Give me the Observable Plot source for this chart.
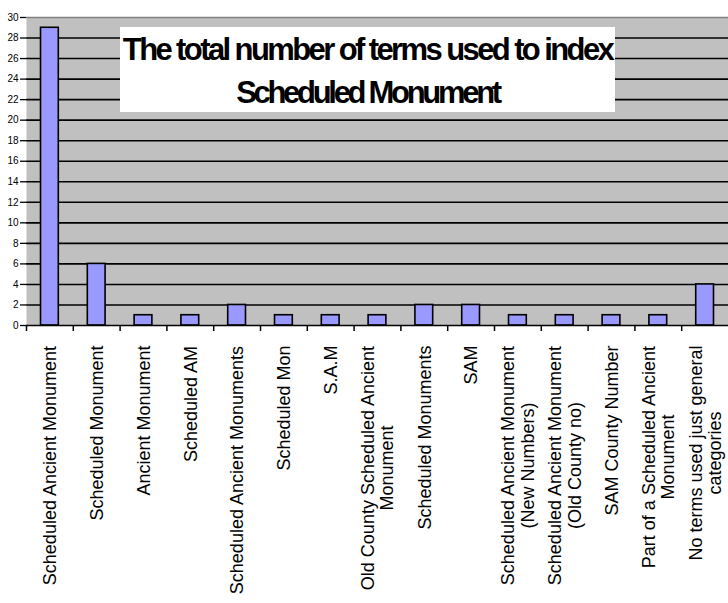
<!DOCTYPE html>
<html>
<head>
<meta charset="utf-8">
<script src="https://cdn.jsdelivr.net/npm/d3@7"></script>
<script src="https://cdn.jsdelivr.net/npm/@observablehq/plot@0.6"></script>
<style>
  html, body { margin: 0; padding: 0; background: #ffffff; }
  #wrap { position: relative; width: 728px; height: 603px; font-family: "Liberation Sans", Arial, sans-serif; }
  #title {
    position: absolute; left: 120px; top: 27px; width: 495px; height: 85px;
    background: #ffffff; text-align: center; font-weight: bold; font-size: 31px;
    line-height: 43px; padding-top: 1px; box-sizing: border-box; white-space: nowrap; color: #000;
  }
  #title .l1 { letter-spacing: -2.6px; }
  #title .l2 { letter-spacing: -3.3px; }
</style>
</head>
<body>
<div id="wrap">
  <div id="chart"></div>
  <div id="title"><span class="l1">The total number of terms used to index</span><br><span class="l2">Scheduled Monument</span></div>
</div>
<script>
const terms = [
  "Scheduled Ancient Monument",
  "Scheduled Monument",
  "Ancient Monument",
  "Scheduled AM",
  "Scheduled Ancient Monuments",
  "Scheduled Mon",
  "S.A.M",
  "Old County Scheduled Ancient\nMonument",
  "Scheduled Monuments",
  "SAM",
  "Scheduled Ancient Monument\n(New Numbers)",
  "Scheduled Ancient Monument\n(Old County no)",
  "SAM County Number",
  "Part of a Scheduled Ancient\nMonument",
  "No terms used just general\ncategories"
];
const counts = [29, 6, 1, 1, 2, 1, 1, 1, 2, 2, 1, 1, 1, 1, 4];
const yTicks = [0, 2, 4, 6, 8, 10, 12, 14, 16, 18, 20, 22, 24, 26, 28, 30];
const gridLines = [2, 4, 6, 8, 10, 12, 14, 16, 18, 20, 22, 24, 26, 28];

const data = terms.map((t, i) => ({term: t, count: counts[i]}));

const W = 728, H = 603, mL = 26, mR = 0, mT = 17, mB = 278;
const step = (W - mL - mR) / terms.length;
const labelFont = 18;
const ctx = document.createElement("canvas").getContext("2d");
ctx.font = `${labelFont}px "Liberation Sans"`;
const longest = t => d3.max(t.split("\n"), s => ctx.measureText(s).width);

const labelMarks = terms.map(t => Plot.text([t], {
  x: d => d, text: d => d, frameAnchor: "bottom", rotate: -90,
  textAnchor: "middle", lineAnchor: "middle", lineHeight: 1.08,
  dy: 20 + longest(t) / 2, fontSize: labelFont, fill: "black"
}));

const plot = Plot.plot({
  width: W, height: H,
  marginLeft: mL, marginRight: mR, marginTop: mT, marginBottom: mB,
  style: {fontFamily: '"Liberation Sans", Arial, sans-serif', background: "white", overflow: "visible"},
  x: {domain: terms, paddingInner: 0.62, paddingOuter: 0.31, round: false, axis: null},
  y: {domain: [0, 30], axis: null},
  marks: [
    Plot.frame({fill: "#c0c0c0", stroke: null}),
    Plot.ruleY(gridLines, {stroke: "black", strokeWidth: 1.6}),
    Plot.ruleY([30], {stroke: "#808080", strokeWidth: 1.6}),
    Plot.barY(data, {x: "term", y: "count", fill: "#9999ff", stroke: "black", strokeWidth: 1.6}),
    Plot.ruleY([0], {stroke: "black", strokeWidth: 1.6}),
    Plot.axisY({ticks: yTicks, tickSize: 6, tickPadding: 2, line: true, label: null,
      fontSize: 10, stroke: "black", strokeWidth: 1.3, style: {letterSpacing: "-0.8px"}}),
    Plot.axisX({tickSize: 6, dx: -step / 2, tickFormat: () => "", label: null, stroke: "black", strokeWidth: 1.5}),
    ...labelMarks
  ]
});
document.getElementById("chart").appendChild(plot);
</script>
</body>
</html>
